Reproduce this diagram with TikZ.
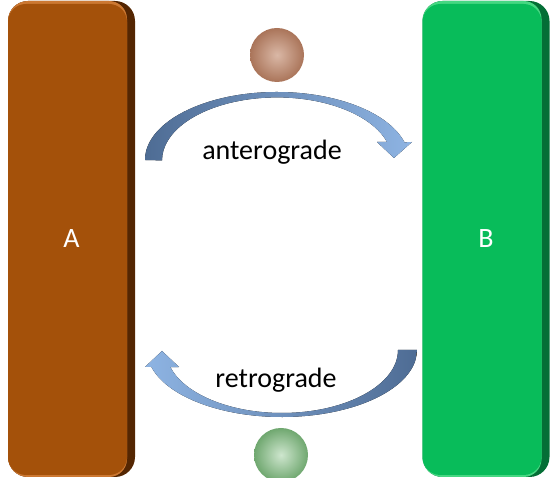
\documentclass[tikz,border=0pt]{standalone}
\usepackage{fontspec}
\setmainfont{Carlito}
\usetikzlibrary{positioning, shapes.geometric}
\definecolor{barbrown}{RGB}{164,81,10}
\definecolor{barbrowndark}{RGB}{84,38,2}
\definecolor{barbrownlight}{RGB}{204,120,50}
\definecolor{bargreen}{RGB}{8,188,90}
\definecolor{bargreendark}{RGB}{4,110,54}
\definecolor{bargreenlight}{RGB}{70,215,130}
\definecolor{arrowdark}{RGB}{78,108,148}
\definecolor{arrowlight}{RGB}{142,180,227}
\definecolor{arrowwhite}{RGB}{236,241,247}
\definecolor{brownhi}{RGB}{218,184,166}
\definecolor{brownmid}{RGB}{164,108,80}
\definecolor{brownedge}{RGB}{136,76,46}
\definecolor{greenhi}{RGB}{206,230,206}
\definecolor{greenmid}{RGB}{100,160,100}
\definecolor{greenedge}{RGB}{58,130,58}
\pgfdeclareradialshading{brownball}{\pgfpoint{0bp}{0bp}}{%
    color(0bp)=(brownhi); color(28bp)=(brownmid); color(50bp)=(brownedge)}
\pgfdeclareradialshading{greenball}{\pgfpoint{0bp}{0bp}}{%
    color(0bp)=(greenhi); color(28bp)=(greenmid); color(50bp)=(greenedge)}

\begin{document}
\begin{tikzpicture}[
    x=1pt, y=1pt,
    barbox/.style={rectangle, rounded corners=20pt, fill=#1dark, text=white,
        minimum width=127pt, minimum height=476pt, inner sep=0pt,
        font=\fontsize{28}{32}\selectfont,
        path picture={
            \fill[#1light, rounded corners=18pt] (path picture bounding box.south west)
                rectangle ([xshift=-8pt]path picture bounding box.north east);
            \fill[#1, rounded corners=18pt] ([yshift=2pt]path picture bounding box.south west)
                rectangle ([xshift=-8pt, yshift=-3pt]path picture bounding box.north east);
        }},
    cargo/.style={circle, minimum size=54pt, inner sep=0pt, shading=#1},
    antshade/.style={left color=arrowdark, middle color=arrowwhite, right color=arrowlight},
    retshade/.style={left color=arrowlight, middle color=arrowwhite, right color=arrowdark},
    label/.style={font=\fontsize{28}{32}\selectfont}
]
    \useasboundingbox (0,0) rectangle (550,478);

    \node[barbox=barbrown] (barA) at (71.5,239) {A};
    \node[barbox=bargreen] (barB) at (486,239) {B};

    \node[cargo=brownball] (cargoTop) at (277,423) {};
    \node[cargo=greenball] (cargoBot) at (281,23) {};

    \coordinate (antC) at (277,318);
    \coordinate (retC) at (282,128);

    % anterograde arrow, A to B
    \fill[antshade] ([shift={(180:132 and 68)}]antC)
        arc[start angle=180, end angle=15, x radius=132, y radius=68]
        -- (412,336) -- (394,320) -- (377,336) -- (387,336)
        arc[start angle=17, end angle=180, x radius=115, y radius=63] -- cycle;
    \node[label] (antLabel) at (272,326) {anterograde};

    % retrograde arrow, B to A
    \fill[retshade] ([shift={(0:116 and 63)}]retC)
        arc[start angle=0, end angle=-164.1, x radius=116, y radius=63]
        -- (179,111) -- (162,127) -- (145,111) -- (151.4,111)
        arc[start angle=-165.3, end angle=0, x radius=135, y radius=67] -- cycle;
    \node[label] (retLabel) at (276,98) {retrograde};
\end{tikzpicture}
\end{document}
